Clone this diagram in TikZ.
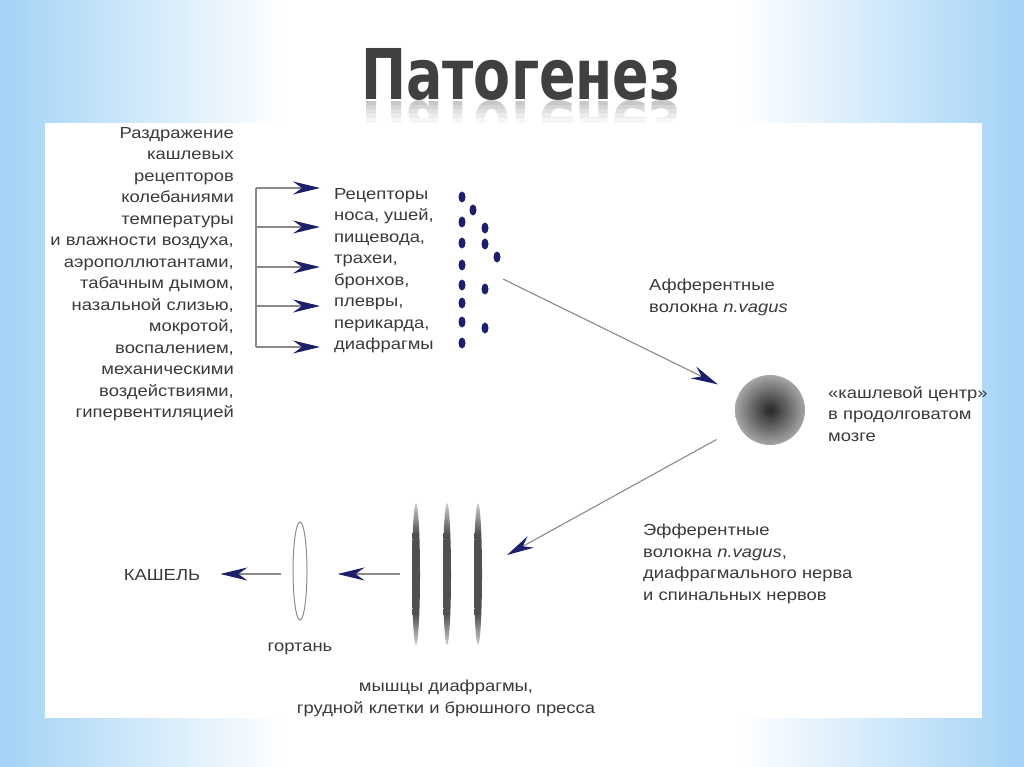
\documentclass[tikz,border=0pt]{standalone}
\usepackage{fontspec}
\setmainfont[FakeStretch=1.15]{Liberation Sans}
\newfontfamily\titlefont{DejaVu Sans}
\usetikzlibrary{arrows.meta,shapes.geometric,calc}
\definecolor{navy}{HTML}{1C1F6B}
\definecolor{txt}{HTML}{3A3A3A}
\definecolor{sky}{HTML}{A3D3F6}
\definecolor{lineg}{HTML}{8A8A8A}
\definecolor{mlight}{HTML}{D0D0D0}
\definecolor{mdark}{HTML}{505050}
\pgfdeclarehorizontalshading{bgsh}{100bp}{color(0bp)=(sky); color(25bp)=(sky); color(39bp)=(white); color(61bp)=(white); color(75bp)=(sky); color(100bp)=(sky)}
\pgfdeclareverticalshading{musc}{100bp}{color(0bp)=(mlight); color(25bp)=(mlight); color(36bp)=(mdark); color(64bp)=(mdark); color(75bp)=(mlight); color(100bp)=(mlight)}
\tikzset{
  txtb/.style={inner sep=0pt, text=txt, font=\fontsize{16}{21.5}\selectfont},
  conn/.style={draw=lineg, line width=1.1pt, -{Stealth[length=27pt,width=13pt,inset=9pt,color=navy,fill=navy]}},
  plain/.style={draw=lineg, line width=1.1pt},
  dotn/.style={ellipse, fill=navy, draw=none, minimum width=7pt, minimum height=11pt, inner sep=0pt},
  muscle/.style={ellipse, shading=musc, draw=none, minimum width=8pt, minimum height=142pt, inner sep=0pt},
}
\begin{document}
\begin{tikzpicture}[x=1pt,y=-1pt]
\useasboundingbox (0,0) rectangle (1024,767);
\clip (0,0) rectangle (1024,767);
% background
\shade[shading=bgsh] (0,0) rectangle (1024,767);
% title
\node[inner sep=0pt, anchor=base, text=black!75, font=\titlefont\fontsize{70}{70}\bfseries, xscale=0.77] (title) at (521,100) {Патогенез};
\begin{scope}
\clip (355,101) rectangle (690,123);
\node[inner sep=0pt, anchor=base, text=black!22, font=\titlefont\fontsize{70}{70}\bfseries, xscale=0.77, yscale=-1] (titlerefl) at (521,102) {Патогенез};
\fill[white, opacity=0.25] (355,105) rectangle (690,109);
\fill[white, opacity=0.45] (355,109) rectangle (690,113);
\fill[white, opacity=0.65] (355,113) rectangle (690,118);
\fill[white, opacity=0.85] (355,118) rectangle (690,123);
\end{scope}
% panel
\fill[white] (45,123) rectangle (982,718);
% left stimulus text
\node[txtb, anchor=north east, align=right] (stim) at (234,127) {Раздражение\\кашлевых\\рецепторов\\колебаниями\\температуры\\и влажности воздуха,\\аэрополлютантами,\\табачным дымом,\\назальной слизью,\\мокротой,\\воспалением,\\механическими\\воздействиями,\\гипервентиляцией};
% receptors text
\node[txtb, anchor=north west, align=left] (rec) at (334,188) {Рецепторы\\носа, ушей,\\пищевода,\\трахеи,\\бронхов,\\плевры,\\перикарда,\\диафрагмы};
% bracket
\coordinate (b1) at (256,188); \coordinate (b2) at (256,227); \coordinate (b3) at (256,267);
\coordinate (b4) at (256,306); \coordinate (b5) at (256,347);
\coordinate (t1) at (320,188); \coordinate (t2) at (320,227); \coordinate (t3) at (320,267);
\coordinate (t4) at (320,306); \coordinate (t5) at (320,347);
\draw[plain] (b1) -- (b5);
\foreach \i in {1,...,5} {\draw[conn] (b\i) -- (t\i);}
% dots
\node[dotn] (d1) at (462,197) {};
\node[dotn] (d2) at (462,222) {};
\node[dotn] (d3) at (462,243) {};
\node[dotn] (d4) at (462,265) {};
\node[dotn] (d5) at (462,285) {};
\node[dotn] (d6) at (462,303) {};
\node[dotn] (d7) at (462,322) {};
\node[dotn] (d8) at (462,343) {};
\node[dotn] (d9) at (473,210) {};
\node[dotn] (d10) at (485,228) {};
\node[dotn] (d11) at (485,244) {};
\node[dotn] (d12) at (497,257) {};
\node[dotn] (d13) at (485,289) {};
\node[dotn] (d14) at (485,328) {};
% cough centre
\node[circle, minimum size=70pt, inner sep=0pt, shading=radial, inner color=black!85, outer color=black!35, draw=none] (cc) at (770,410) {};
\node[txtb, anchor=north west, align=left] (cctxt) at (828,386) {«кашлевой центр»\\в продолговатом\\мозге};
% afferent
\coordinate (aS) at (503,279);
\draw[conn, shorten >=23pt] (aS) -- (cc);
\node[txtb, anchor=north west, align=left] (afftxt) at (649,279) {Афферентные\\волокна \textit{n.vagus}};
% efferent
\coordinate (eE) at (507,555);
\draw[conn, shorten <=26pt] (cc) -- (eE);
\node[txtb, anchor=north west, align=left] (efftxt) at (643,524) {Эфферентные\\волокна \textit{n.vagus},\\диафрагмального нерва\\и спинальных нервов};
% muscles
\node[muscle] (m1) at (416,574) {};
\node[muscle] (m2) at (447,574) {};
\node[muscle] (m3) at (478,574) {};
\node[txtb, anchor=north, align=center] (mtxt) at (446,680) {мышцы диафрагмы,\\грудной клетки и брюшного пресса};
% larynx
\node[ellipse, draw=black!45, line width=1pt, minimum width=14pt, minimum height=98pt, inner sep=0pt] (lar) at (300,571) {};
\node[txtb, anchor=base] (lartxt) at (300,651) {гортань};
% cough
\node[txtb, anchor=base] (cough) at (162,580) {КАШЕЛЬ};
\draw[conn, shorten <=12pt, shorten >=30pt] (m1) -- (lar.east |- m1);
\draw[conn, shorten <=12pt, shorten >=20pt] (lar.west |- m1) -- (cough.east |- m1);
\end{tikzpicture}
\end{document}
